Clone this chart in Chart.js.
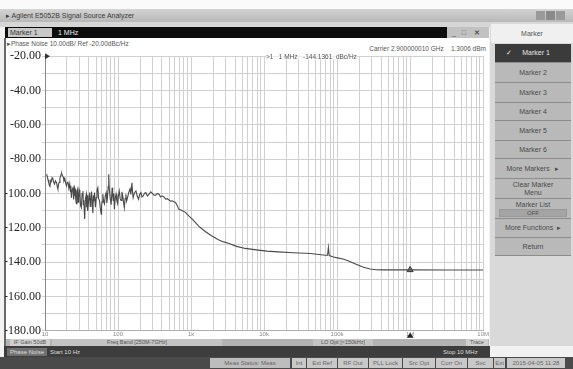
<!DOCTYPE html>
<html><head><meta charset="utf-8">
<script src="https://cdn.jsdelivr.net/npm/chart.js@4"></script>
<style>
body{margin:0;width:573px;height:369px;overflow:hidden;background:#f2f2f2;font-family:"Liberation Sans",Arial,sans-serif;}
#root{position:relative;width:573px;height:369px;overflow:hidden;}
.a{position:absolute;white-space:nowrap;}
.t7{font-size:7px;line-height:8px;}
.btn{position:absolute;left:495px;width:76px;background:#b9b9b9;color:#4a4a4a;font-size:7px;text-align:center;border-bottom:1px solid #8c8c8c;display:flex;align-items:center;justify-content:center;line-height:8px;}
.sb{position:absolute;top:358px;height:10px;background:#c9c9c9;color:#666;font-size:6px;line-height:10px;text-align:center;}
</style></head>
<body><div id="root">
<!-- window chrome -->
<div class="a" style="left:0;top:0;width:573px;height:9px;background:#fafafa"></div>
<div class="a" style="left:0;top:9px;width:573px;height:13px;background:linear-gradient(#d4d4d4,#b8b8b8)"></div>
<div class="a t7" style="left:6px;top:12px;color:#3a3a3a">&#9656; Agilent E5052B Signal Source Analyzer</div>
<div class="a" style="left:536px;top:11px;width:9px;height:9px;background:#9a9a9a"></div>
<div class="a" style="left:546px;top:11px;width:9px;height:9px;background:#8a8a8a"></div>
<div class="a" style="left:556px;top:11px;width:9px;height:9px;background:#9a9a9a"></div>
<div class="a" style="left:0;top:22px;width:490px;height:5px;background:#d6d6d6"></div>
<div class="a" style="left:5px;top:27px;width:442px;height:11px;background:#0d0d0d"></div>
<div class="a t7" style="left:8px;top:28px;width:42px;height:9px;background:#c8c8c8;color:#333;line-height:9px;padding-left:2px">Marker 1</div>
<div class="a t7" style="left:58px;top:28px;color:#f2f2f2;line-height:9px">1 MHz</div>
<div class="a" style="left:447px;top:27px;width:42px;height:11px;background:#c2c2c2"></div>
<div class="a t7" style="left:452px;top:28px;color:#555;line-height:9px">_&nbsp;&nbsp;&nbsp;&#9633;&nbsp;&nbsp;&nbsp;&nbsp;<b>&#10005;</b></div>
<!-- plot window -->
<div class="a" style="left:5px;top:38px;width:484px;height:301px;background:#ffffff"></div>
<div class="a" style="left:4px;top:38px;width:2px;height:308px;background:#6a6a6a"></div>
<div class="a" style="left:7px;top:40px;font-size:6.5px;line-height:7px;color:#555">&#9656;Phase Noise 10.00dB/ Ref -20.00dBc/Hz</div>
<div class="a" style="left:330px;top:45px;font-size:6.5px;line-height:7px;color:#555;text-align:right;width:156px">Carrier 2.900000010 GHz&nbsp;&nbsp;&nbsp;&nbsp;1.3006 dBm</div>
<canvas id="c" width="484" height="291" style="position:absolute;left:5px;top:48px"></canvas>
<div class="a" style="left:266px;top:53px;font-size:6.5px;line-height:7px;color:#555;background:rgba(255,255,255,0.6)">&gt;1&nbsp;&nbsp;&nbsp;1 MHz&nbsp;&nbsp;&nbsp;-144.1361&nbsp;&nbsp;dBc/Hz</div>
<!-- status rows -->
<div class="a" style="left:6px;top:339px;width:483px;height:7px;background:#b4b4b4"></div>
<div class="a" style="left:10px;top:339px;width:40px;height:7px;background:#cfcfcf;font-size:5.5px;line-height:7px;color:#555;text-align:center">IF Gain 50dB</div>
<div class="a" style="left:52px;top:339px;width:170px;height:7px;background:#c4c4c4;font-size:5.5px;line-height:7px;color:#555;text-align:center">Freq Band [250M-7GHz]</div>
<div class="a" style="left:313px;top:339px;width:60px;height:7px;background:#c4c4c4;font-size:5.5px;line-height:7px;color:#555;text-align:center">LO Opt [&lt;150kHz]</div>
<div class="a" style="left:466px;top:339px;width:22px;height:7px;background:#cfcfcf;font-size:5.5px;line-height:7px;color:#555;text-align:center">Trace</div>
<div class="a" style="left:4px;top:346px;width:486px;height:11px;background:#3d3d3d"></div>
<div class="a" style="left:7px;top:348px;width:40px;height:8px;background:#707070;font-size:6px;line-height:8px;color:#ddd;text-align:center">Phase Noise</div>
<div class="a" style="left:50px;top:348px;font-size:6px;line-height:8px;color:#ddd">Start 10 Hz</div>
<div class="a" style="left:443px;top:348px;font-size:6px;line-height:8px;color:#ddd">Stop 10 MHz</div>
<div class="a" style="left:0;top:357px;width:573px;height:12px;background:#4a4a4a"></div>
<div class="sb" style="left:210px;width:80px;background:#bdbdbd">Meas Status: Meas</div>
<div class="sb" style="left:292px;width:14px">Int</div>
<div class="sb" style="left:307px;width:30px">Ext Ref</div>
<div class="sb" style="left:338px;width:30px">RF Out</div>
<div class="sb" style="left:369px;width:33px">PLL Lock</div>
<div class="sb" style="left:403px;width:32px">Src Opt</div>
<div class="sb" style="left:436px;width:31px">Corr On</div>
<div class="sb" style="left:468px;width:25px">Svc</div>
<div class="sb" style="left:494px;width:11px">Ext</div>
<div class="sb" style="left:507px;width:58px">2015-04-05 11:28</div>
<!-- softkey panel -->
<div class="a" style="left:490px;top:22px;width:83px;height:324px;background:#d9d9d9"></div>
<div class="a t7" style="left:491px;top:24px;width:82px;height:19px;background:#f0f0f0;color:#555;text-align:center;line-height:19px">Marker</div>
<div class="btn" style="top:44px;height:18px;background:#3b3b3b;color:#e8e8e8">&#10003;&nbsp;&nbsp;&nbsp;&nbsp;&nbsp;Marker 1&nbsp;&nbsp;&nbsp;&nbsp;&nbsp;</div>
<div class="btn" style="top:63px;height:19px">Marker 2</div>
<div class="btn" style="top:83px;height:19px">Marker 3</div>
<div class="btn" style="top:103px;height:17px">Marker 4</div>
<div class="btn" style="top:121px;height:19px">Marker 5</div>
<div class="btn" style="top:141px;height:17px">Marker 6</div>
<div class="btn" style="top:159px;height:19px">More Markers&nbsp;&nbsp;&nbsp;&#9656;</div>
<div class="btn" style="top:179px;height:19px">Clear Marker<br>Menu</div>
<div class="btn" style="top:199px;height:19px;flex-direction:column">Marker List<span style="display:block;width:66px;background:#a4a4a4;border:1px solid #999;line-height:6px;font-size:6px">OFF</span></div>
<div class="btn" style="top:219px;height:18px">More Functions&nbsp;&nbsp;&#9656;</div>
<div class="btn" style="top:238px;height:17px">Return</div>
</div>
<script>
const freqHz = [
  10.5,10.8,11.0,11.3,11.7,12.0,12.2,12.5,12.8,13.1,13.5,13.9,14.4,14.7,15.0,15.3,15.6,16.0,16.3,16.6,16.9,17.3,17.8,18.2,18.7,19.2,19.7,20.1,20.6,
  21.2,21.8,22.3,22.6,23.0,23.5,24.2,24.6,25.0,25.4,25.9,26.4,26.9,27.4,28.1,28.5,29.0,29.5,30.0,30.7,31.5,32.2,33.1,33.5,34.0,34.5,34.9,35.8,36.8,37.2,37.6,38.2,38.7,39.7,40.8,41.6,42.5,43.4,44.4,45.2,46.0,46.8,47.7,49.0,50.3,51.5,52.9,54.2,55.8,57.2,58.9,59.6,60.4,
  61.9,63.5,65.2,66.8,68.8,70.4,72.0,73.3,74.6,75.8,78.0,80.5,83.0,84.5,86.0,87.5,89.2,91.5,94.0,96.5,98.9,101,104,107,110,113,116,119,122,125,128,131,135,140,146,150,155,158,161,168,176,183,191,198,206,213,221,230,240,253,266,280,295,311,328,345,364,383,403,425,449,473,498,525,552,582,614,645,681,760,838,930,1031,1150,1271,1550,1905,2371,2800,3243,4200,5520,8280,11000,15490,25000,43450,60000,69500,74000,76000,78000,89200,101000,120000,138000,160000,189000,230000,283000,340000,412000,600000,989000,3000000,10000000];
const noiseDbcHz = [
  -88.8,-90.5,-92.0,-94.0,-95.6,-92.5,-93.0,-90.8,-91.5,-93.2,-94.5,-92.6,-93.7,-95.8,-97.3,-95.0,-93.5,-91.2,-90.0,-88.9,-88.2,-89.6,-90.5,-92.8,-91.5,-94.0,-95.6,-93.8,-93.0,
  -97.0,-94.4,-99.0,-95.5,-102.4,-98.0,-96.6,-103.5,-101.0,-96.5,-97.5,-104.0,-106.0,-99.0,-97.3,-105.0,-103.0,-98.0,-99.0,-107.0,-108.2,-100.0,-98.5,-106.5,-104.0,-110.0,-114.8,-103.0,-100.4,-108.0,-106.0,-101.0,-110.1,-104.0,-99.5,-107.5,-103.5,-98.8,-106.0,-111.5,-101.0,-104.5,-99.5,-108.0,-102.4,-98.0,-96.6,-103.0,-104.0,-108.5,-112.0,-107.0,-105.0,
  -100.4,-104.5,-106.0,-101.5,-99.5,-105.5,-101.5,-96.0,-88.8,-97.0,-102.4,-106.5,-96.6,-101.0,-104.0,-100.0,-109.1,-103.0,-100.4,-104.5,-106.0,-101.5,-98.5,-103.0,-104.0,-99.0,-101.4,-105.0,-108.2,-103.0,-100.4,-104.5,-102.4,-99.5,-97.3,-100.5,-93.7,-99.0,-102.4,-99.5,-98.5,-101.5,-103.3,-100.5,-99.5,-102.0,-101.4,-100.0,-99.5,-101.5,-100.4,-99.0,-99.9,-101.0,-101.0,-100.0,-100.4,-102.0,-101.4,-102.0,-103.3,-103.0,-103.8,-104.5,-104.3,-104.8,-105.2,-107.0,-109.1,-110.0,-111.0,-113.0,-114.8,-117.0,-119.0,-122.0,-124.6,-127.0,-128.2,-129.0,-130.8,-132.0,-133.0,-133.6,-134.0,-134.5,-135.0,-135.7,-136.0,-136.0,-131.5,-136.2,-137.0,-137.5,-138.2,-139.0,-140.2,-141.5,-143.0,-144.0,-144.4,-144.5,-144.5,-144.5,-144.6,-144.6];
// marker 1
const markerFreqHz = [1000000];
const markerDbcHz = [-144.5];
// axis definitions
const xDecades = [10,100,1000,10000,100000,1000000,10000000];
const xDecadeLabels = ["10","100","1k","10k","100k","1M","10M"];
const logMultipliers = [1,2,3,4,5,6,7,8,9];
const yGridValues = [-180,-170,-160,-150,-140,-130,-120,-110,-100,-90,-80,-70,-60,-50,-40,-30,-20];
const yLabelValues = [-180,-160,-140,-120,-100,-80,-60,-40,-20];

const xGrid = [];
xDecades.forEach((d,i)=>{ if(i===xDecades.length-1){xGrid.push(d);} else logMultipliers.forEach(m=>xGrid.push(d*m)); });

const markerPlugin = {
  id:'markerStrip',
  afterDraw(chart){
    const {ctx, chartArea:a, scales:{x}} = chart;
    ctx.save();
    ctx.fillStyle='#333';
    ctx.beginPath(); ctx.moveTo(a.left, a.top-3); ctx.lineTo(a.left+5, a.top); ctx.lineTo(a.left, a.top+3); ctx.fill();
    markerFreqHz.forEach(f=>{
      const px = x.getPixelForValue(f);
      ctx.fillStyle='#222';
      ctx.beginPath(); ctx.moveTo(px-3.5, a.bottom+7); ctx.lineTo(px, a.bottom+2); ctx.lineTo(px+3.5, a.bottom+7); ctx.fill();
    });
    ctx.restore();
  }
};

new Chart(document.getElementById('c'), {
  type:'line',
  data:{datasets:[
    {label:'Phase Noise', data: freqHz.map((f,i)=>({x:f,y:noiseDbcHz[i]})), borderColor:'#4a4a4a', borderWidth:1.1, pointRadius:0, tension:0},
    {label:'Marker 1', data: markerFreqHz.map((f,i)=>({x:f,y:markerDbcHz[i]})), showLine:false, pointStyle:'triangle', pointRadius:3.5, backgroundColor:'#888', borderColor:'#333', borderWidth:1}
  ]},
  options:{
    animation:false, responsive:false, maintainAspectRatio:false,
    layout:{padding:{top:7,right:2,left:0,bottom:0}},
    plugins:{legend:{display:false}, tooltip:{enabled:false}},
    scales:{
      x:{type:'logarithmic', min:10, max:10000000,
         afterBuildTicks(s){ s.ticks = xGrid.map(v=>({value:v})); },
         afterFit(s){ s.height = 8; },
         ticks:{autoSkip:false, maxRotation:0, minRotation:0, padding:0, font:{size:6, family:'Liberation Sans'}, color:'#888',
                callback:(v)=>{ const i = xDecades.indexOf(v); return i>=0 ? xDecadeLabels[i] : ''; }},
         grid:{color:'#d0d0d0', tickLength:0}, border:{color:'#b0b0b0'}},
      y:{min:-180, max:-20,
         afterBuildTicks(s){ s.ticks = yGridValues.map(v=>({value:v})); },
         afterFit(s){ s.width = 40; },
         ticks:{autoSkip:false, padding:1, color:'#222', font:{family:'Liberation Serif', size:12},
                callback:(v)=> yLabelValues.includes(v) ? v.toFixed(2) : ''},
         grid:{color:'#d0d0d0', tickLength:3}, border:{color:'#8a8a8a'}}
    }
  },
  plugins:[markerPlugin]
});
</script>
</body></html>
